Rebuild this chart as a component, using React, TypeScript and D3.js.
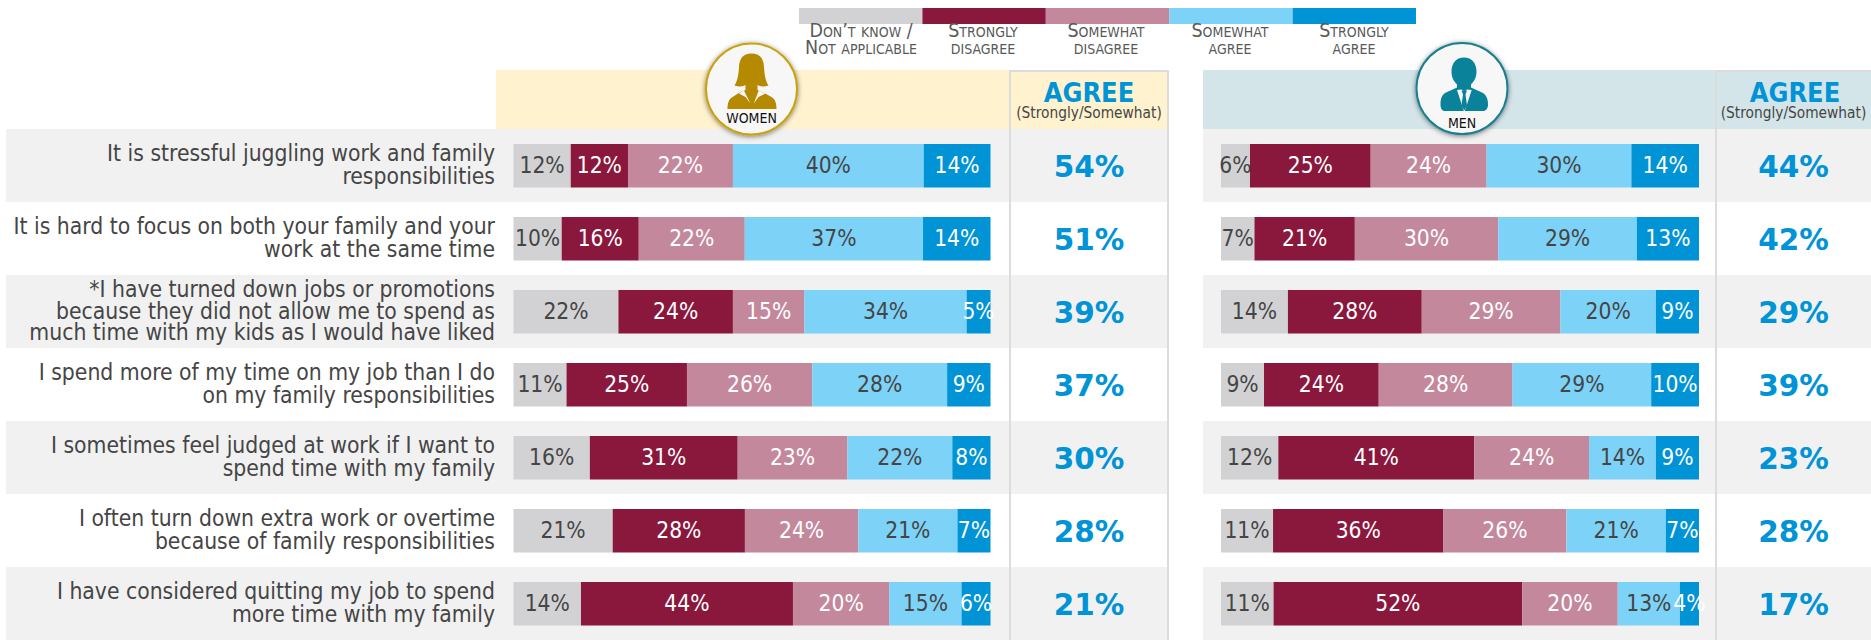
import React, { useEffect, useRef } from 'react'
import * as d3 from 'd3'

const W = 1871
const H = 640

const statements = [
  ['It is stressful juggling work and family', 'responsibilities'],
  ['It is hard to focus on both your family and your', 'work at the same time'],
  ['*I have turned down jobs or promotions', 'because they did not allow me to spend as', 'much time with my kids as I would have liked'],
  ['I spend more of my time on my job than I do', 'on my family responsibilities'],
  ['I sometimes feel judged at work if I want to', 'spend time with my family'],
  ['I often turn down extra work or overtime', 'because of family responsibilities'],
  ['I have considered quitting my job to spend', 'more time with my family'],
]

const keys = ['dk', 'sd', 'swd', 'swa', 'sa']
const legendLabels = [
  ["Don\u2019t know /", 'Not applicable'],
  ['Strongly', 'disagree'],
  ['Somewhat', 'disagree'],
  ['Somewhat', 'agree'],
  ['Strongly', 'agree'],
]
const colors = ['#d2d2d4', '#8a173c', '#c4889c', '#7dd2f8', '#0093d6']
const labelColors = ['#454545', '#ffffff', '#ffffff', '#454545', '#ffffff']

const women = [
  [12, 12, 22, 40, 14],
  [10, 16, 22, 37, 14],
  [22, 24, 15, 34, 5],
  [11, 25, 26, 28, 9],
  [16, 31, 23, 22, 8],
  [21, 28, 24, 21, 7],
  [14, 44, 20, 15, 6],
]
const men = [
  [6, 25, 24, 30, 14],
  [7, 21, 30, 29, 13],
  [14, 28, 29, 20, 9],
  [9, 24, 28, 29, 10],
  [12, 41, 24, 14, 9],
  [11, 36, 26, 21, 7],
  [11, 52, 20, 13, 4],
]
const womenAgree = [54, 51, 39, 37, 30, 28, 21]
const menAgree = [44, 42, 29, 39, 23, 28, 17]

const FONT = '"DejaVu Sans Condensed", "DejaVu Sans", sans-serif'
const BLUE = '#0093d6'

const App = () => {
  const svgRef = useRef<SVGSVGElement>(null)

  useEffect(() => {
    const svg = d3.select(svgRef.current)
    svg.selectAll('*').remove()

    const defs = svg.append('defs')
    defs.append('filter').attr('id', 'shadow').attr('x', '-20%').attr('y', '-20%').attr('width', '140%').attr('height', '140%')
      .append('feDropShadow').attr('dx', 0).attr('dy', 1).attr('stdDeviation', 2.5).attr('flood-color', '#000').attr('flood-opacity', 0.5)

    const rowY = d3.scaleBand<number>().domain(d3.range(7)).range([129, 640])
    const barPad = 15

    // row bands
    const rows = svg.append('g')
    statements.forEach((_, i) => {
      if (i % 2) return
      rows.append('rect').attr('x', 6).attr('y', rowY(i)).attr('width', 1163).attr('height', rowY.bandwidth()).attr('fill', '#f1f1f1')
      rows.append('rect').attr('x', 1203).attr('y', rowY(i)).attr('width', W - 1203).attr('height', rowY.bandwidth()).attr('fill', '#f1f1f1')
    })

    // header bands
    svg.append('rect').attr('x', 496).attr('y', 70).attr('width', 673).attr('height', 59).attr('fill', '#fff2ce')
    svg.append('rect').attr('x', 1203).attr('y', 70).attr('width', W - 1203).attr('height', 59).attr('fill', '#d3e5e9')

    // legend
    const legendX = d3.scaleLinear().domain([0, 5]).range([799, 1416])
    const legendLabelX = [861, 983, 1106, 1230, 1354]
    keys.forEach((k, i) => {
      const x0 = legendX(i)
      const x1 = legendX(i + 1)
      svg.append('rect').attr('x', x0).attr('y', 8).attr('width', x1 - x0).attr('height', 16).attr('fill', colors[i])
      const t = svg.append('text').attr('text-anchor', 'middle').attr('fill', '#595959')
        .style('font-family', FONT).style('font-size', '19.5px').style('font-variant', 'small-caps')
      legendLabels[i].forEach((line, j) => {
        t.append('tspan').attr('x', legendLabelX[i]).attr('y', 37 + j * 16.5).text(line)
      })
    })

    // statement labels
    statements.forEach((lines, i) => {
      const lh = lines.length === 3 ? 21.5 : 22.5
      const cy = rowY(i)! + rowY.bandwidth() / 2
      const t = svg.append('text').attr('text-anchor', 'end').attr('fill', '#454545')
        .style('font-family', FONT).style('font-size', '22.7px')
      lines.forEach((line, j) => {
        t.append('tspan').attr('x', 495).attr('y', cy + (j - (lines.length - 1) / 2) * lh + 7).text(line)
      })
    })

    const drawBars = (data: number[][], agree: number[], x0: number, x1: number, boxX: number, boxW: number, titleX: number) => {
      const tableRows = data.map((r) => Object.fromEntries(keys.map((k, i) => [k, r[i]])))
      const stacked = d3.stack<any>().keys(keys).offset(d3.stackOffsetExpand)(tableRows)
      const x = d3.scaleLinear().domain([0, 1]).range([x0, x1])
      const g = svg.append('g')
      stacked.forEach((layer, k) => {
        layer.forEach((d, i) => {
          g.append('rect').attr('x', x(d[0])).attr('y', rowY(i)! + barPad)
            .attr('width', x(d[1]) - x(d[0])).attr('height', rowY.bandwidth() - barPad * 2 + 0.5)
            .attr('fill', colors[k])
        })
      })
      stacked.forEach((layer, k) => {
        layer.forEach((d, i) => {
          g.append('text').attr('x', (x(d[0]) + x(d[1])) / 2).attr('y', rowY(i)! + rowY.bandwidth() / 2 + 7.5)
            .attr('text-anchor', 'middle').attr('fill', labelColors[k])
            .style('font-family', FONT).style('font-size', '22.6px')
            .text(`${data[i][k]}%`)
        })
      })
      // agree column
      svg.append('path').attr('d', `M${boxX},${H}V71H${boxX + boxW}${boxX + boxW < W ? `V${H}` : ''}`)
        .attr('fill', 'none').attr('stroke', '#dcdcdc').attr('stroke-width', 2)
      const cx = boxX + boxW / 2
      svg.append('text').attr('x', titleX).attr('y', 102).attr('text-anchor', 'middle').attr('fill', BLUE)
        .style('font-family', FONT).style('font-size', '27px').style('font-weight', 700).text('AGREE')
      svg.append('text').attr('x', cx).attr('y', 118).attr('text-anchor', 'middle').attr('fill', '#454545')
        .style('font-family', FONT).style('font-size', '15.3px').text('(Strongly/Somewhat)')
      agree.forEach((v, i) => {
        svg.append('text').attr('x', cx).attr('y', rowY(i)! + rowY.bandwidth() / 2 + 11).attr('text-anchor', 'middle').attr('fill', BLUE)
          .style('font-family', '"DejaVu Sans", sans-serif').style('font-size', '29.5px').style('font-weight', 700).text(`${v}%`)
      })
    }
    drawBars(women, womenAgree, 513.5, 990.5, 1010, 158, 1089)
    drawBars(men, menAgree, 1221, 1699, 1716, 155, 1795)

    // badges
    const badge = (cx: number, cy: number, stroke: string, label: string, labelY: number) => {
      const g = svg.append('g').attr('transform', `translate(${cx},${cy})`)
      g.append('circle').attr('r', 45.5).attr('fill', '#f7f7f7').attr('stroke', stroke).attr('stroke-width', 2).attr('filter', 'url(#shadow)')
      g.append('text').attr('y', labelY).attr('text-anchor', 'middle').attr('fill', '#111')
        .style('font-family', FONT).style('font-size', '14px').text(label)
      return g
    }
    const wg = badge(751.5, 89, '#c9a20c', 'WOMEN', 33.5)
    wg.append('path').attr('fill', '#b58900')
      .attr('d', 'M0,-35.4C-9,-35.4 -12,-30 -12.5,-22C-13,-14 -14,-8 -17,-3.5C-12,-2 -8,-2.5 -6,-4L-6,1L-11,3L-19,8C-23,10 -24,15 -24,20L25,20C25,15 24,10 20,8L11,3L6,1L6,-4C8,-2.5 12,-2 17,-3.5C14,-8 13,-14 12.5,-22C12,-30 9,-35.4 0,-35.4Z')
    wg.append('path').attr('fill', '#f7f7f7').attr('d', 'M-12.6,4.6L-7.7,1.3L-1,14.6L-6,8Z')
    wg.append('path').attr('fill', '#f7f7f7').attr('d', 'M14,4.6L7.3,1.3L2.3,14.6L7,8Z')
    const mg = badge(1462, 88.5, '#1b7f90', 'MEN', 39.5)
    mg.append('path').attr('fill', '#0a8299')
      .attr('d', 'M2,-31C-6,-31 -10.5,-25 -10.5,-17C-10.5,-11 -8,-7 -5,-4L-5,-1L-16,4C-20,6 -21.5,10 -21.5,16C-21.5,20 -20,22.5 -17,22.5L21,22.5C24,22.5 26,20 26,16C26,10 24,6 20,4L9,-1L9,-4C12,-7 14.5,-11 14.5,-17C14.5,-25 10,-31 2,-31Z')
    mg.append('path').attr('fill', '#f7f7f7').attr('d', 'M-5,1.5L2.3,24L9.7,1.5L5,1L2.3,3L-.5,1Z')
    mg.append('path').attr('fill', '#0a8299').attr('d', 'M-.5,2L5,2L3.5,6L5,17L2.3,22L-.5,17L1,6Z')
  }, [])

  return (
    <svg ref={svgRef} width={W} height={H} viewBox={`0 0 ${W} ${H}`} style={{ position: 'absolute', left: 0, top: 0, background: '#fff' }} />
  )
}

export default App
